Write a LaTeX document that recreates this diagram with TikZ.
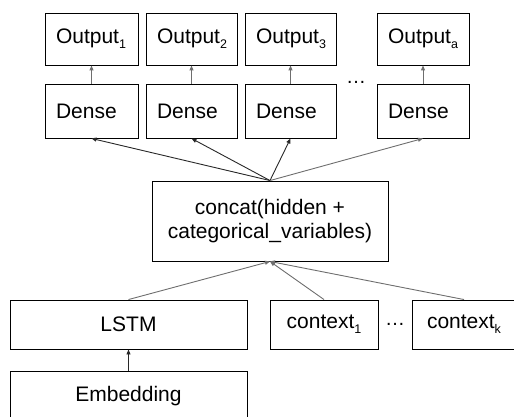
\documentclass[tikz,border=0pt]{standalone}
\usepackage{fontspec}
\setmainfont{Liberation Sans}
\usetikzlibrary{arrows.meta, positioning}
\definecolor{edgedark}{RGB}{40,40,40}
\definecolor{edgegray}{RGB}{110,110,110}
\newcommand{\lowsub}[1]{\raisebox{-5pt}{\fontsize{12.5}{12.5}\selectfont #1}}

\tikzset{
    block/.style={draw=black, line width=0.9pt, inner sep=0pt, align=center,
        font=\fontsize{21}{24}\selectfont},
    leftblock/.style={block, text width=#1, inner xsep=11pt, align=left},
    flow/.style={-{Triangle[length=5pt,width=4pt]}, line width=0.9pt, draw=edgedark},
    lightflow/.style={flow, draw=edgegray}
}

\begin{document}
\begin{tikzpicture}[x=1pt, y=-1pt]
    \useasboundingbox (0,0) rectangle (514,417);

    % Outputs
    \node[leftblock=71pt, minimum height=52pt] (out1) at (91.5,39) {Output\lowsub{1}};
    \node[leftblock=69pt, minimum height=52pt] (out2) at (191.5,39) {Output\lowsub{2}};
    \node[leftblock=69pt, minimum height=52pt] (out3) at (290.5,39) {Output\lowsub{3}};
    \node[leftblock=70pt, minimum height=52pt] (outa) at (423,39) {Output\lowsub{a}};

    % Dense layers
    \node[leftblock=71pt, minimum height=54pt] (dense1) at (91.5,111) {Dense};
    \node[leftblock=69pt, minimum height=54pt] (dense2) at (191.5,111) {Dense};
    \node[leftblock=69pt, minimum height=54pt] (dense3) at (290.5,111) {Dense};
    \node[leftblock=70pt, minimum height=54pt] (densea) at (423,111) {Dense};
    \node[font=\fontsize{20}{24}\selectfont] (topdots) at (356,82) {\dots};

    % Concat
    \node[block, minimum width=236pt, minimum height=80pt] (concat) at (270,221)
        {concat(hidden +\\categorical\_variables)};

    % Inputs
    \node[block, minimum width=237pt, minimum height=49pt] (lstm) at (128.5,324.5) {LSTM};
    \node[block, minimum width=108pt, minimum height=49pt] (ctx1) at (324,324.5) {context\lowsub{1}};
    \node[block, minimum width=104pt, minimum height=49pt] (ctxk) at (464,324.5) {context\lowsub{k}};
    \node[font=\fontsize{20}{24}\selectfont] (botdots) at (395,324) {\dots};
    \node[block, minimum width=237pt, minimum height=50pt] (emb) at (128.5,396) {Embedding};

    % Connections
    \draw[lightflow] (dense1) -- (out1);
    \draw[lightflow] (dense2) -- (out2);
    \draw[lightflow] (dense3) -- (out3);
    \draw[lightflow] (densea) -- (outa);

    \draw[flow] (concat.north) -- (dense1.south);
    \draw[flow] (concat.north) -- (dense2.south);
    \draw[flow] (concat.north) -- (dense3.south);
    \draw[lightflow] (concat.north) -- (densea.south);

    \draw[lightflow] (lstm.north) -- (concat.south);
    \draw[lightflow] (ctx1.north) -- (concat.south);
    \draw[lightflow] (ctxk.north) -- (concat.south);
    \draw[flow] (emb) -- (lstm);
\end{tikzpicture}
\end{document}
